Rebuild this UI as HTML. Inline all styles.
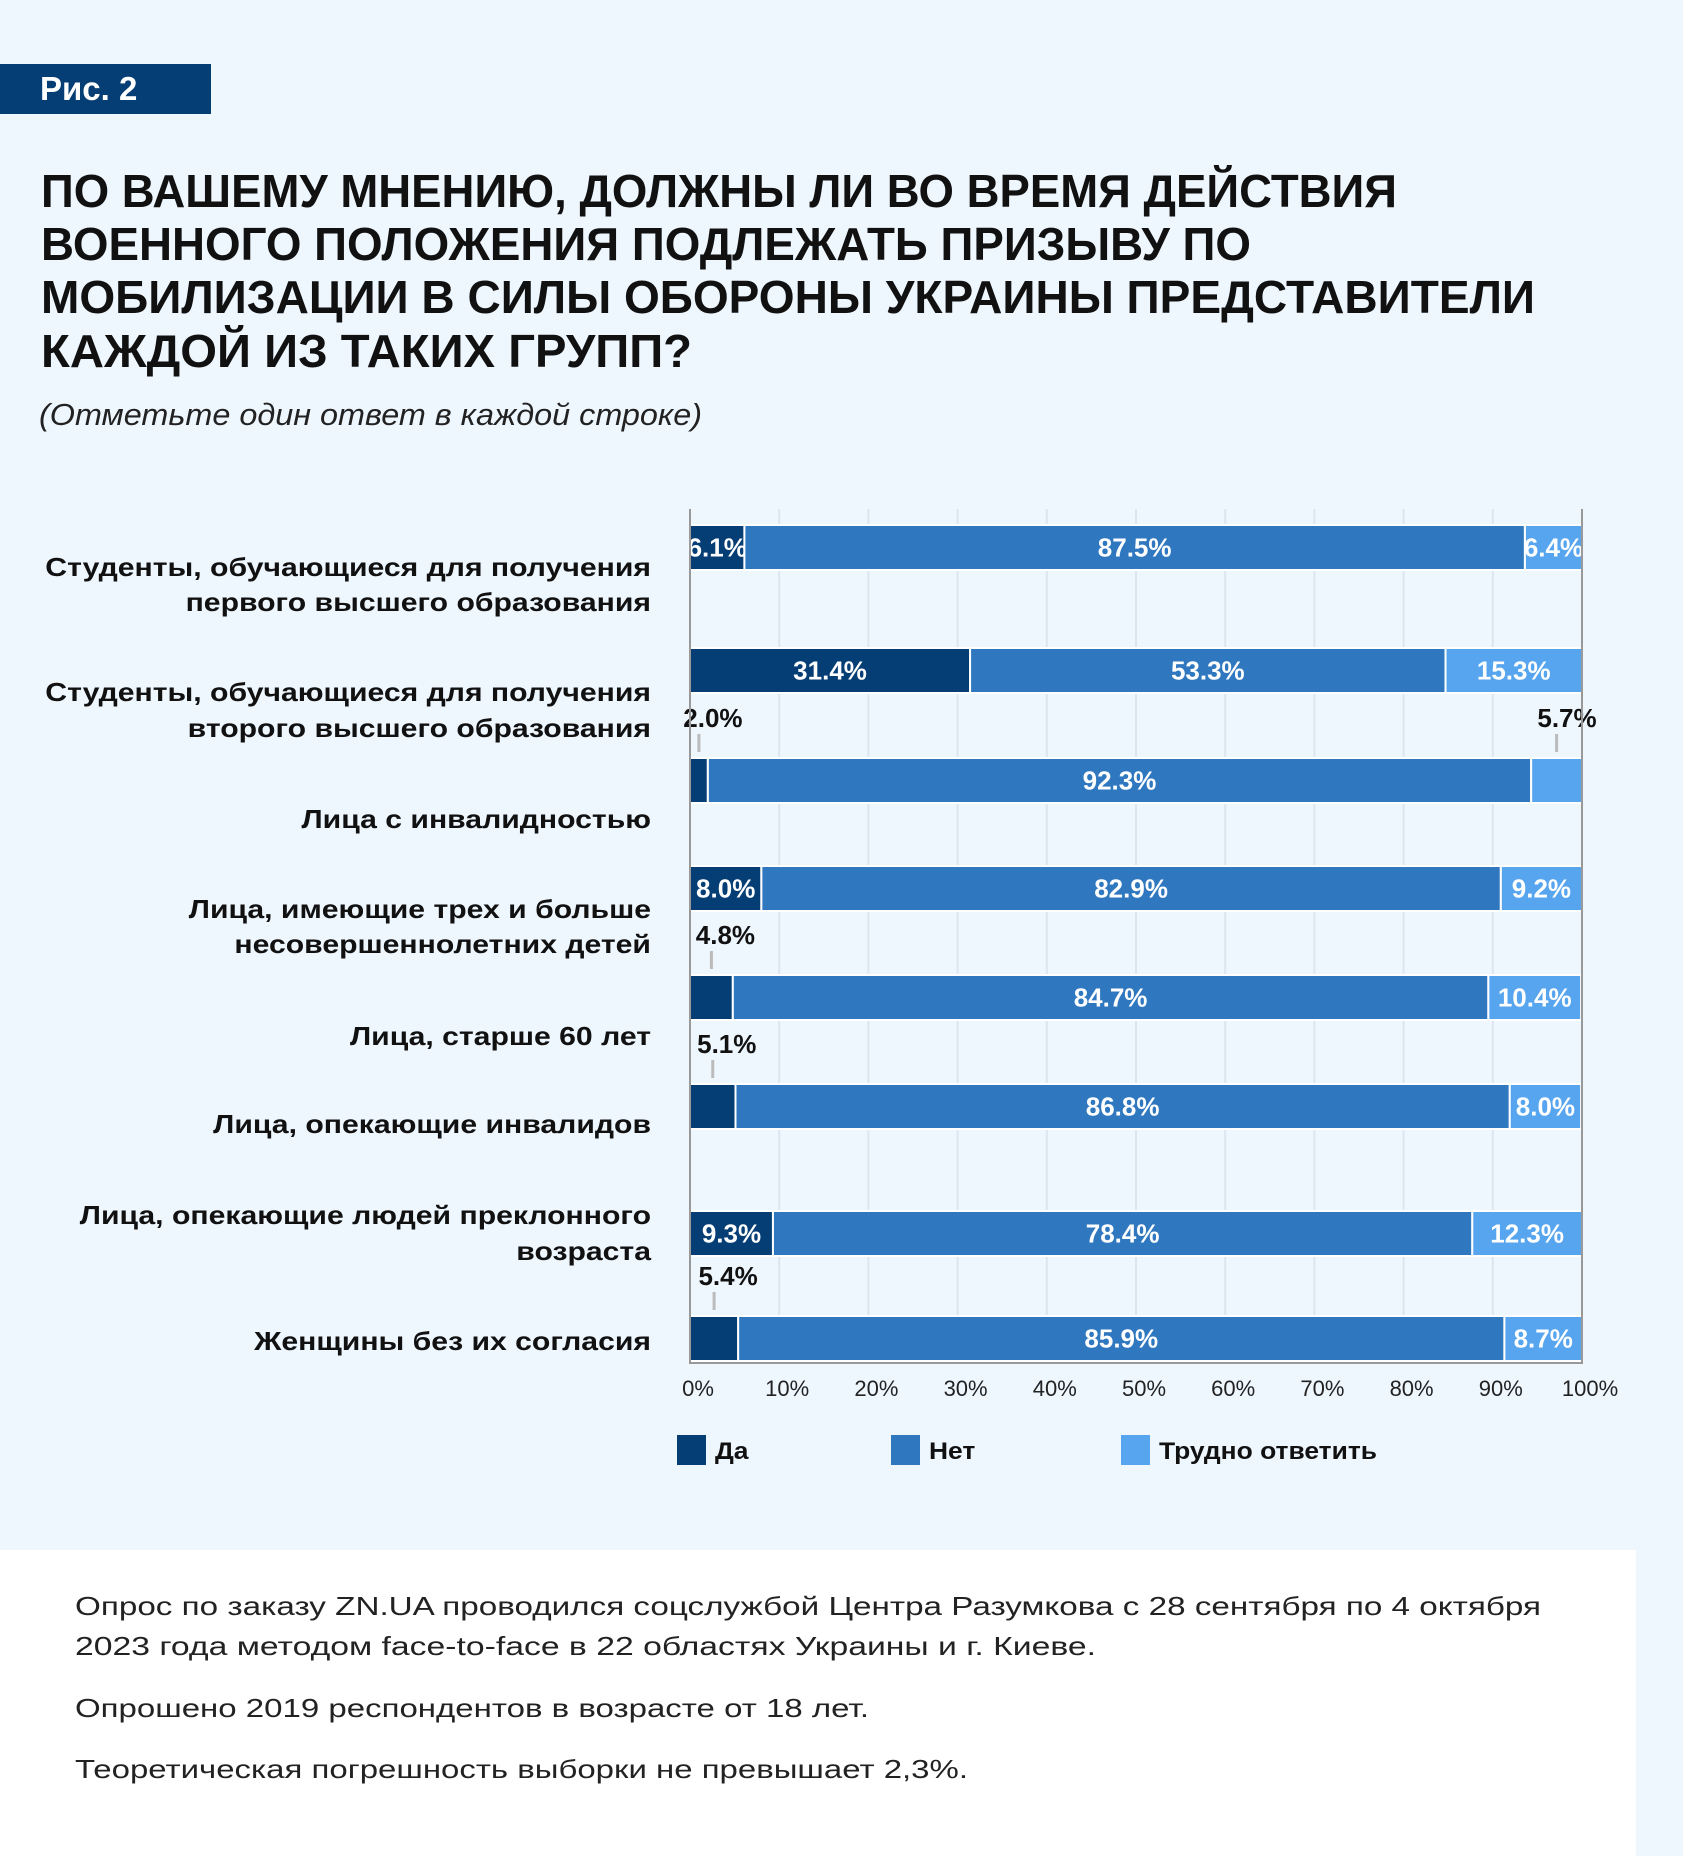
<!DOCTYPE html>
<html><head><meta charset="utf-8"><style>
html,body{margin:0;padding:0;background:#eef6fe;}
svg{display:block;font-family:"Liberation Sans",sans-serif;}
</style></head><body>
<svg id="chart" width="1683" height="1856" viewBox="0 0 1683 1856">
<rect x="0" y="0" width="1683" height="1856" fill="#eef6fe"/>
<rect x="0" y="1550" width="1636" height="306" fill="#ffffff"/>
<rect x="0" y="64" width="211" height="50" fill="#053d75"/>
<text x="40" y="100" font-size="33" font-weight="bold" fill="#fff">Рис. 2</text>
<g font-size="46" font-weight="bold" fill="#111">
<text x="41" y="207" textLength="1356" lengthAdjust="spacingAndGlyphs">ПО ВАШЕМУ МНЕНИЮ, ДОЛЖНЫ ЛИ ВО ВРЕМЯ ДЕЙСТВИЯ</text>
<text x="41" y="260" textLength="1210" lengthAdjust="spacingAndGlyphs">ВОЕННОГО ПОЛОЖЕНИЯ ПОДЛЕЖАТЬ ПРИЗЫВУ ПО</text>
<text x="41" y="313" textLength="1494" lengthAdjust="spacingAndGlyphs">МОБИЛИЗАЦИИ В СИЛЫ ОБОРОНЫ УКРАИНЫ ПРЕДСТАВИТЕЛИ</text>
<text x="41" y="367" textLength="651" lengthAdjust="spacingAndGlyphs">КАЖДОЙ ИЗ ТАКИХ ГРУПП?</text>
</g>
<text x="39" y="425" font-size="31" font-style="italic" fill="#222" textLength="663" lengthAdjust="spacingAndGlyphs">(Отметьте один ответ в каждой строке)</text>
<g id="plot"></g>
<g font-size="26" fill="#222">
<text x="75" y="1615" textLength="1466" lengthAdjust="spacingAndGlyphs">Опрос по заказу ZN.UA проводился соцслужбой Центра Разумкова с 28 сентября по 4 октября</text>
<text x="75" y="1655" textLength="1021" lengthAdjust="spacingAndGlyphs">2023 года методом face-to-face в 22 областях Украины и г. Киеве.</text>
<text x="75" y="1717" textLength="794" lengthAdjust="spacingAndGlyphs">Опрошено 2019 респондентов в возрасте от 18 лет.</text>
<text x="75" y="1778" textLength="893" lengthAdjust="spacingAndGlyphs">Теоретическая погрешность выборки не превышает 2,3%.</text>
</g>
</svg>
<script>
const categories = [
  ["Студенты, обучающиеся для получения","первого высшего образования"],
  ["Студенты, обучающиеся для получения","второго высшего образования"],
  ["Лица с инвалидностью"],
  ["Лица, имеющие трех и больше","несовершеннолетних детей"],
  ["Лица, старше 60 лет"],
  ["Лица, опекающие инвалидов"],
  ["Лица, опекающие людей преклонного","возраста"],
  ["Женщины без их согласия"]
];
const yesValues = [6.1, 31.4, 2.0, 8.0, 4.8, 5.1, 9.3, 5.4];
const noValues = [87.5, 53.3, 92.3, 82.9, 84.7, 86.8, 78.4, 85.9];
const hardValues = [6.4, 15.3, 5.7, 9.2, 10.4, 8.0, 12.3, 8.7];
const seriesNames = ["Да","Нет","Трудно ответить"];
const tickValues = [0,10,20,30,40,50,60,70,80,90,100];

const barTops = [525, 648, 758, 866, 975, 1084, 1211, 1316];
const labelYs = [[567,602],[692,728],[819],[909,944],[1036],[1124],[1215,1251],[1341]];
const colors = ["#053d75","#2f78c0","#56a5ee"];
const X0 = 690, X1 = 1582, BH = 45, TOP = 509, BOT = 1363;
const xs = v => X0 + v / 100 * (X1 - X0);
const NS = "http://www.w3.org/2000/svg";
const plot = document.getElementById("plot");
function mk(tag, attrs, parent, text) {
  const e = document.createElementNS(NS, tag);
  for (const k in attrs) e.setAttribute(k, attrs[k]);
  if (text !== undefined) e.textContent = text;
  (parent || plot).appendChild(e);
  return e;
}
function widen(el, f) {
  const w = el.getComputedTextLength();
  if (w > 0) {
    el.setAttribute("textLength", (w * f).toFixed(1));
    el.setAttribute("lengthAdjust", "spacingAndGlyphs");
  }
}
tickValues.forEach(t => {
  if (t > 0 && t < 100) {
    const g = mk("line", {x1: xs(t), x2: xs(t), y1: TOP, y2: BOT, stroke: "#dde6ee", "stroke-width": 2});
    
    
  }
  const tl = mk("text", {x: xs(t) + 8, y: 1396, "font-size": 22, "text-anchor": "middle", fill: "#222"}, plot, t + "%");
  
  
});
const series = [yesValues, noValues, hardValues];
categories.forEach((cat, i) => {
  const y = barTops[i];
  cat.forEach((line, j) => {
    const lt = mk("text", {x: 651, y: labelYs[i][j] + 9, "font-size": 26, "font-weight": "bold", "text-anchor": "end", fill: "#111"}, plot, line);
    
    
    widen(lt, 1.16);
  });
  let acc = 0;
  series.forEach((s, k) => {
    const v = s[i];
    const x0 = xs(acc), x1 = xs(Math.min(acc + v, 100));
    const r = mk("rect", {x: x0, y: y, width: Math.max(0, x1 - x0), height: BH, fill: colors[k], stroke: "#fff", "stroke-width": 2});
    
    
    const cx = (x0 + x1) / 2;
    const txt = v.toFixed(1) + "%";
    if (v >= 6) {
      const t = mk("text", {x: cx, y: y + BH / 2 + 9, "font-size": 26, "font-weight": "bold", "text-anchor": "middle", fill: "#fff"}, plot, txt);
      
      
    } else {
      const ll = mk("line", {x1: cx, x2: cx, y1: y - 24, y2: y - 6, stroke: "#bbb", "stroke-width": 3});
      
      
      const lx = k === 2 ? Math.min(cx + 20, X1 - 15) : Math.max(cx + 14, X0 + 18);
      const t = mk("text", {x: lx, y: y - 31, "font-size": 26, "font-weight": "bold", "text-anchor": "middle", fill: "#111"}, plot, txt);
      
      
    }
    acc += v;
  });
});
const ax = mk("path", {d: `M${X0} ${TOP}V${BOT}H${X1}V${TOP}`, fill: "none", stroke: "#999", "stroke-width": 2});


const legendX = [677, 891, 1121];
seriesNames.forEach((n, k) => {
  const s = mk("rect", {x: legendX[k], y: 1435, width: 29, height: 30, fill: colors[k]});
  
  
  const t = mk("text", {x: legendX[k] + 38, y: 1459, "font-size": 24, "font-weight": "bold", fill: "#111"}, plot, n);
  
  
  widen(t, 1.1);
});
</script>
</body></html>
